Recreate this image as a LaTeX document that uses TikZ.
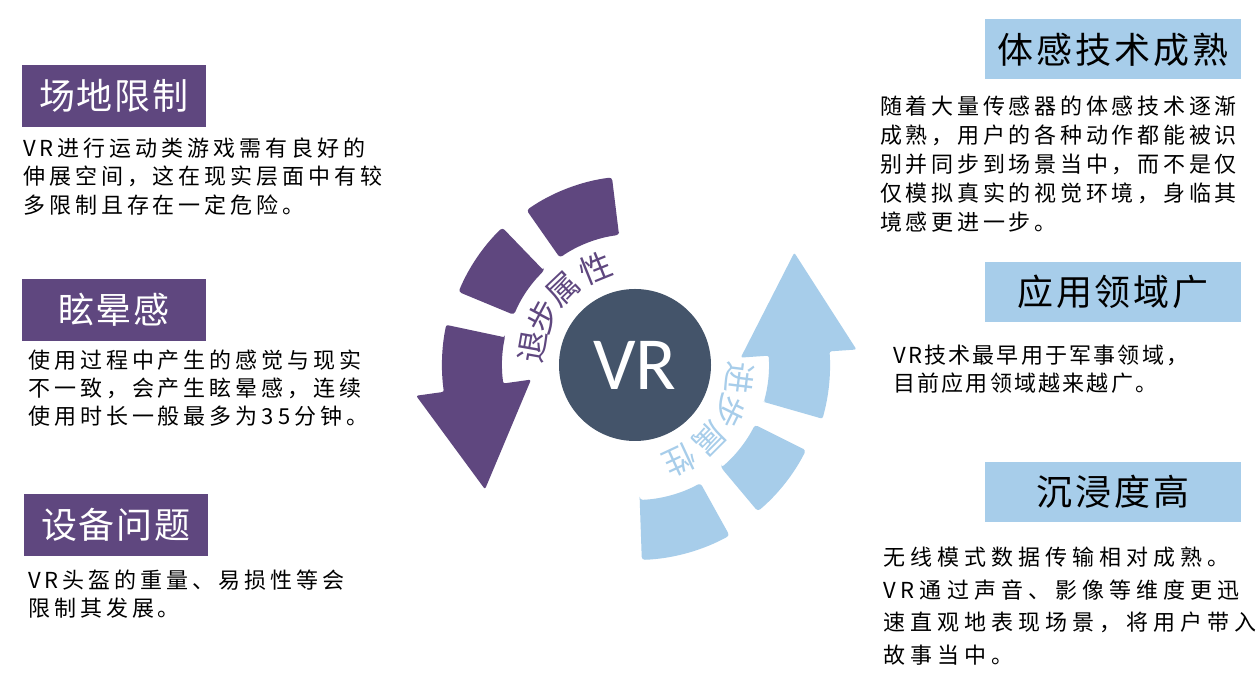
\documentclass[tikz,border=0pt]{standalone}
\usepackage{fontspec}
\setmainfont{Noto Sans CJK SC}
\newfontfamily\vrfont{Carlito}
\definecolor{vrpurple}{HTML}{5F477F}
\definecolor{vrblue}{HTML}{A7CDEA}
\definecolor{vrslate}{HTML}{44546A}
\begin{document}
\begin{tikzpicture}[x=1pt, y=1pt,
    lefthead/.style={fill=vrpurple, text=white, minimum width=184pt, minimum height=62pt, inner sep=0pt,
        font=\fontsize{36}{40}\selectfont\addfontfeature{LetterSpace=5.5}},
    righthead/.style={fill=vrblue, text=black, minimum width=256pt, minimum height=60pt, inner sep=0pt,
        font=\fontsize{36}{40}\selectfont\addfontfeature{LetterSpace=8}},
    bodytext/.style 2 args={anchor=base west, inner sep=0pt, align=left,
        font=\fontsize{22}{#1}\selectfont\addfontfeature{LetterSpace=#2}},
    arctext/.style={inner sep=0pt, font=\fontsize{32}{32}\selectfont}]
    \fill[white] (0,0) rectangle (1258,679);
    % Ring around VR
    \begin{scope}[shift={(635,314)}]
        % Backward arrow
        \fill[vrpurple, rounded corners=3pt] (97:131) -- (97:189) arc[start angle=97, end angle=125, radius=189]
            -- (125:131) arc[start angle=125, end angle=97, radius=131] -- cycle;
        \fill[vrpurple, rounded corners=3pt] (134:131) -- (134:191) arc[start angle=134, end angle=157.5, radius=191]
            -- (157.5:131) arc[start angle=157.5, end angle=134, radius=131] -- cycle;
        \fill[vrpurple, rounded corners=2pt] (168:133) -- (168:193) arc[start angle=168, end angle=188, radius=193]
            -- (188:221) -- (-150,-124.3) -- (188:105) -- (188:133) arc[start angle=188, end angle=168, radius=133] -- cycle;
        % Forward arrow
        \fill[vrblue, rounded corners=3pt] (-88:135) -- (-88:195) arc[start angle=-88, end angle=-61, radius=195]
            -- (-61:135) arc[start angle=-61, end angle=-88, radius=135] -- cycle;
        \fill[vrblue, rounded corners=3pt] (-50:134) -- (-50:191) arc[start angle=-50, end angle=-26.5, radius=191]
            -- (-26.5:134) arc[start angle=-26.5, end angle=-50, radius=134] -- cycle;
        \fill[vrblue, rounded corners=2pt] (-16:135) -- (-16:195) arc[start angle=-16, end angle=4, radius=195]
            -- (4:222) -- (159.3,112.3) -- (4:106) -- (4:134) arc[start angle=4, end angle=-16, radius=134] -- cycle;
        % Texts on the ring
        \foreach \ch/\ang [count=\i] in {退/170,步/152,属/133.5,性/112}
            \node[arctext, text=vrpurple, rotate=\ang-90] (back\i) at (\ang:104) {\ch};
        \foreach \ch/\ang [count=\i] in {进/-7,步/-26,属/-45,性/-65}
            \node[arctext, text=vrblue, rotate=\ang-90] (fwd\i) at (\ang:105) {\ch};
    \end{scope}
    \node[circle, fill=vrslate, minimum size=152pt, inner sep=0pt, text=white,
        font=\vrfont\fontsize{75}{75}\selectfont] (vr) at (635,314) {VR};
    % Left side
    \node[lefthead] (site) at (114,583) {场地限制};
    \node[bodytext={28.5}{18}] (sitetxt) at (23,465.6) {VR进行运动类游戏需有良好的\\伸展空间，这在现实层面中有较\\多限制且存在一定危险。};
    \node[lefthead] (dizzy) at (114,369) {眩晕感};
    \node[bodytext={28}{18}] (dizzytxt) at (28,254.6) {使用过程中产生的感觉与现实\\不一致，会产生眩晕感，连续\\使用时长一般最多为35分钟。};
    \node[lefthead] (device) at (116,154) {设备问题};
    \node[bodytext={28}{18}] (devicetxt) at (28,62.6) {VR头盔的重量、易损性等会\\限制其发展。};
    % Right side
    \node[righthead] (motion) at (1113,629.5) {体感技术成熟};
    \node[bodytext={29}{17}] (motiontxt) at (880,448.6) {随着大量传感器的体感技术逐渐\\成熟，用户的各种动作都能被识\\别并同步到场景当中，而不是仅\\仅模拟真实的视觉环境，身临其\\境感更进一步。};
    \node[righthead] (field) at (1113,387) {应用领域广};
    \node[bodytext={28}{10}] (fieldtxt) at (893,287.6) {VR技术最早用于军事领域，\\目前应用领域越来越广。};
    \node[righthead] (immerse) at (1113,187) {沉浸度高};
    \node[bodytext={32.7}{23}] (immersetxt) at (883,15.5) {无线模式数据传输相对成熟。\\VR通过声音、影像等维度更迅\\速直观地表现场景，将用户带入\\故事当中。};
\end{tikzpicture}
\end{document}
